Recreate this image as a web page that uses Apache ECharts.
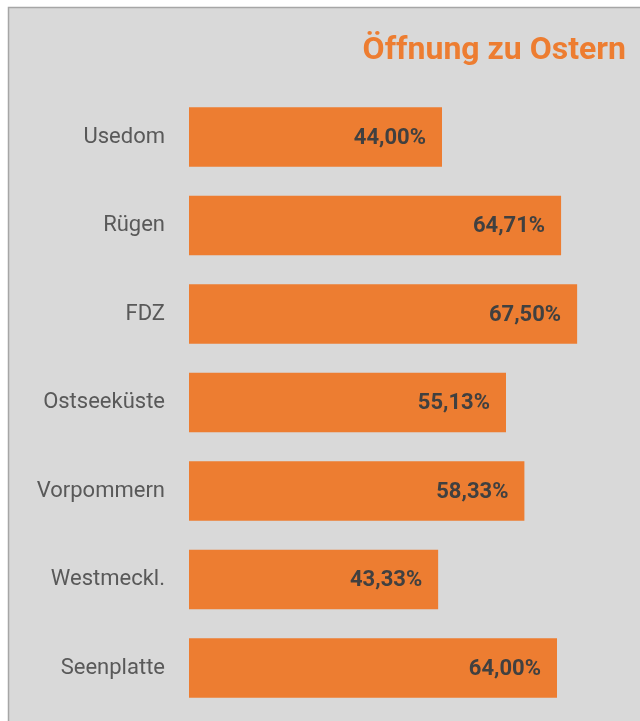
<!DOCTYPE html>
<html>
<head>
<meta charset="utf-8">
<script src="https://cdn.jsdelivr.net/npm/echarts@6/dist/echarts.min.js"></script>
<style>
  html, body { margin: 0; padding: 0; background: #ffffff; }
  #chart { width: 640px; height: 721px; }
</style>
</head>
<body>
<div id="chart"></div>
<script>
// Regions (top to bottom) and share of businesses opening at Easter, in percent
const regions = ['Usedom', 'Rügen', 'FDZ', 'Ostseeküste', 'Vorpommern', 'Westmeckl.', 'Seenplatte'];
const shares = [44.00, 64.71, 67.50, 55.13, 58.33, 43.33, 64.00];
const titleText = 'Öffnung zu Ostern';

const chart = echarts.init(document.getElementById('chart'), null, { renderer: 'canvas' });

const fmt = v => v.toFixed(2).replace('.', ',') + '%';

chart.setOption({
  backgroundColor: '#ffffff',
  animation: false,
  graphic: [{
    type: 'rect',
    z: -10,
    silent: true,
    shape: { x: 8.5, y: 7.5, width: 640, height: 720 },
    style: { fill: '#d9d9d9', stroke: '#a6a6a6', lineWidth: 1.5 }
  }],
  title: {
    text: titleText,
    right: 9,
    top: 30,
    textStyle: {
      fontFamily: 'Roboto',
      fontWeight: 'bold',
      fontSize: 32,
      color: '#ed7d31'
    }
  },
  grid: {
    left: 189,
    right: 48.5,
    top: 92.75,
    bottom: 8.75,
    containLabel: false
  },
  xAxis: {
    type: 'value',
    min: 0,
    max: 70,
    show: false
  },
  yAxis: {
    type: 'category',
    inverse: true,
    data: regions,
    axisLine: { show: false },
    axisTick: { show: false },
    splitLine: { show: false },
    axisLabel: {
      margin: 24,
      fontFamily: 'Roboto',
      fontSize: 22,
      color: '#595959'
    }
  },
  series: [{
    type: 'bar',
    data: shares,
    barCategoryGap: '33%',
    itemStyle: { color: '#ed7d31' },
    label: {
      show: true,
      position: 'insideRight',
      distance: 16,
      offset: [0, 1],
      formatter: p => fmt(p.value),
      fontFamily: 'Roboto',
      fontWeight: 'bold',
      fontSize: 22,
      color: '#404040'
    }
  }]
});
</script>
</body>
</html>
